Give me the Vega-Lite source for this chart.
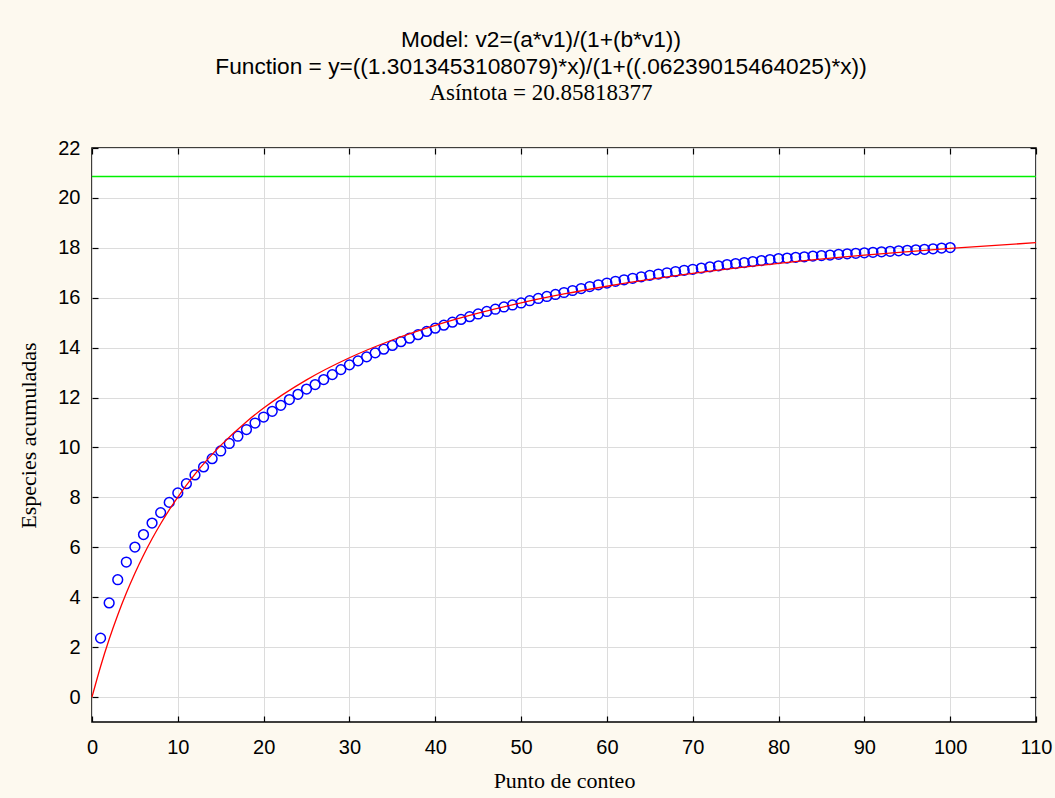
{
  "$schema": "https://vega.github.io/schema/vega-lite/v6.json",
  "width": 944,
  "height": 574,
  "autosize": {"type": "none"},
  "padding": {"left": 92, "top": 148, "right": 19, "bottom": 76},
  "background": "#FDF9EF",
  "config": {
    "view": {"stroke": "black", "strokeWidth": 1.5, "fill": "white"},
    "axis": {
      "domain": false,
      "tickColor": "black",
      "tickSize": -6,
      "tickWidth": 1.2,
      "labelFont": "Liberation Sans",
      "labelFontSize": 20,
      "labelColor": "black",
      "labelFlush": false,
      "labelOverlap": false,
      "titleFont": "Liberation Serif",
      "titleFontSize": 22,
      "titleFontWeight": "normal",
      "titleColor": "black",
      "gridColor": "#DCDCDC",
      "gridWidth": 1
    }
  },
  "title": {
    "text": ["Model: v2=(a*v1)/(1+(b*v1))", "Function = y=((1.3013453108079)*x)/(1+((.06239015464025)*x))"],
    "subtitle": "Asíntota = 20.85818377",
    "font": "Liberation Sans",
    "fontSize": 22.7,
    "fontWeight": "normal",
    "lineHeight": 27,
    "color": "black",
    "subtitleFont": "Liberation Serif",
    "subtitleFontSize": 23,
    "subtitleColor": "black",
    "subtitlePadding": 3,
    "anchor": "middle",
    "dx": -23,
    "offset": 33
  },
  "datasets": {
    "obs": [
      {"x": 1, "y": 2.36}, {"x": 2, "y": 3.77}, {"x": 3, "y": 4.70}, {"x": 4, "y": 5.41}, {"x": 5, "y": 6.01},
      {"x": 6, "y": 6.51}, {"x": 7, "y": 6.97}, {"x": 8, "y": 7.39}, {"x": 9, "y": 7.80}, {"x": 10, "y": 8.18},
      {"x": 11, "y": 8.55}, {"x": 12, "y": 8.90}, {"x": 13, "y": 9.22}, {"x": 14, "y": 9.55}, {"x": 15, "y": 9.86},
      {"x": 16, "y": 10.16}, {"x": 17, "y": 10.45}, {"x": 18, "y": 10.72}, {"x": 19, "y": 10.98}, {"x": 20, "y": 11.22},
      {"x": 21, "y": 11.45}, {"x": 22, "y": 11.69}, {"x": 23, "y": 11.92}, {"x": 24, "y": 12.13}, {"x": 25, "y": 12.34},
      {"x": 26, "y": 12.52}, {"x": 27, "y": 12.72}, {"x": 28, "y": 12.92}, {"x": 29, "y": 13.12}, {"x": 30, "y": 13.31},
      {"x": 31, "y": 13.47}, {"x": 32, "y": 13.63}, {"x": 33, "y": 13.79}, {"x": 34, "y": 13.94}, {"x": 35, "y": 14.09},
      {"x": 36, "y": 14.24}, {"x": 37, "y": 14.38}, {"x": 38, "y": 14.52}, {"x": 39, "y": 14.65}, {"x": 40, "y": 14.78},
      {"x": 41, "y": 14.90}, {"x": 42, "y": 15.02}, {"x": 43, "y": 15.13}, {"x": 44, "y": 15.24}, {"x": 45, "y": 15.35},
      {"x": 46, "y": 15.45}, {"x": 47, "y": 15.54}, {"x": 48, "y": 15.63}, {"x": 49, "y": 15.71}, {"x": 50, "y": 15.79},
      {"x": 51, "y": 15.88}, {"x": 52, "y": 15.97}, {"x": 53, "y": 16.05}, {"x": 54, "y": 16.13}, {"x": 55, "y": 16.21},
      {"x": 56, "y": 16.29}, {"x": 57, "y": 16.37}, {"x": 58, "y": 16.45}, {"x": 59, "y": 16.52}, {"x": 60, "y": 16.59},
      {"x": 61, "y": 16.66}, {"x": 62, "y": 16.72}, {"x": 63, "y": 16.78}, {"x": 64, "y": 16.84}, {"x": 65, "y": 16.90},
      {"x": 66, "y": 16.95}, {"x": 67, "y": 17.00}, {"x": 68, "y": 17.05}, {"x": 69, "y": 17.10}, {"x": 70, "y": 17.14},
      {"x": 71, "y": 17.19}, {"x": 72, "y": 17.24}, {"x": 73, "y": 17.28}, {"x": 74, "y": 17.33}, {"x": 75, "y": 17.37},
      {"x": 76, "y": 17.41}, {"x": 77, "y": 17.45}, {"x": 78, "y": 17.49}, {"x": 79, "y": 17.53}, {"x": 80, "y": 17.57},
      {"x": 81, "y": 17.59}, {"x": 82, "y": 17.62}, {"x": 83, "y": 17.64}, {"x": 84, "y": 17.67}, {"x": 85, "y": 17.69},
      {"x": 86, "y": 17.71}, {"x": 87, "y": 17.74}, {"x": 88, "y": 17.76}, {"x": 89, "y": 17.78}, {"x": 90, "y": 17.80},
      {"x": 91, "y": 17.82}, {"x": 92, "y": 17.84}, {"x": 93, "y": 17.86}, {"x": 94, "y": 17.88}, {"x": 95, "y": 17.90},
      {"x": 96, "y": 17.92}, {"x": 97, "y": 17.94}, {"x": 98, "y": 17.96}, {"x": 99, "y": 17.99}, {"x": 100, "y": 18.01}
    ],
    "fit": [
      {"x": 0, "y": 0}, {"x": 1, "y": 1.2249}, {"x": 2, "y": 2.314}, {"x": 3, "y": 3.2885}, {"x": 4, "y": 4.1658},
      {"x": 5, "y": 4.9596}, {"x": 6, "y": 5.6814}, {"x": 7, "y": 6.3404}, {"x": 8, "y": 6.9446}, {"x": 9, "y": 7.5005},
      {"x": 10, "y": 8.0137}, {"x": 12, "y": 8.9303}, {"x": 15, "y": 10.0837}, {"x": 18, "y": 11.0335}, {"x": 20, "y": 11.5789},
      {"x": 25, "y": 12.7097}, {"x": 30, "y": 13.5949}, {"x": 35, "y": 14.3066}, {"x": 40, "y": 14.8913}, {"x": 45, "y": 15.3803},
      {"x": 50, "y": 15.795}, {"x": 55, "y": 16.1514}, {"x": 60, "y": 16.4609}, {"x": 70, "y": 16.9721}, {"x": 80, "y": 17.3768},
      {"x": 90, "y": 17.7052}, {"x": 100, "y": 17.9769}, {"x": 110, "y": 18.2056}
    ],
    "asym": [{"asintota": 20.85818377}]
  },
  "layer": [
    {
      "data": {"name": "asym"},
      "mark": {"type": "rule", "color": "#00F000", "strokeWidth": 1.5},
      "encoding": {
        "y": {"field": "asintota", "type": "quantitative", "scale": {"domain": [-1, 22], "nice": false, "zero": false}, "axis": null}
      }
    },
    {
      "data": {"name": "obs"},
      "mark": {"type": "point", "shape": "circle", "filled": false, "color": "#0000FF", "size": 95, "strokeWidth": 1.5, "opacity": 1},
      "encoding": {
        "x": {"field": "x", "type": "quantitative", "scale": {"domain": [0, 110], "nice": false, "zero": false},
          "axis": {"orient": "bottom", "values": [0, 10, 20, 30, 40, 50, 60, 70, 80, 90, 100, 110], "title": "Punto de conteo", "grid": true, "labelPadding": 21, "titlePadding": 13}},
        "y": {"field": "y", "type": "quantitative", "scale": {"domain": [-1, 22], "nice": false, "zero": false},
          "axis": {"orient": "left", "values": [0, 2, 4, 6, 8, 10, 12, 14, 16, 18, 20, 22], "title": "Especies acumuladas", "grid": true, "labelPadding": 18, "titlePadding": 17}}
      }
    },
    {
      "data": {"name": "fit"},
      "mark": {"type": "line", "color": "#FF0000", "strokeWidth": 1.3, "interpolate": "monotone"},
      "encoding": {
        "x": {"field": "x", "type": "quantitative",
          "axis": {"orient": "top", "values": [0, 10, 20, 30, 40, 50, 60, 70, 80, 90, 100, 110], "labels": false, "title": null, "grid": false}},
        "y": {"field": "y", "type": "quantitative",
          "axis": {"orient": "right", "values": [0, 2, 4, 6, 8, 10, 12, 14, 16, 18, 20, 22], "labels": false, "title": null, "grid": false}}
      }
    }
  ]
}
